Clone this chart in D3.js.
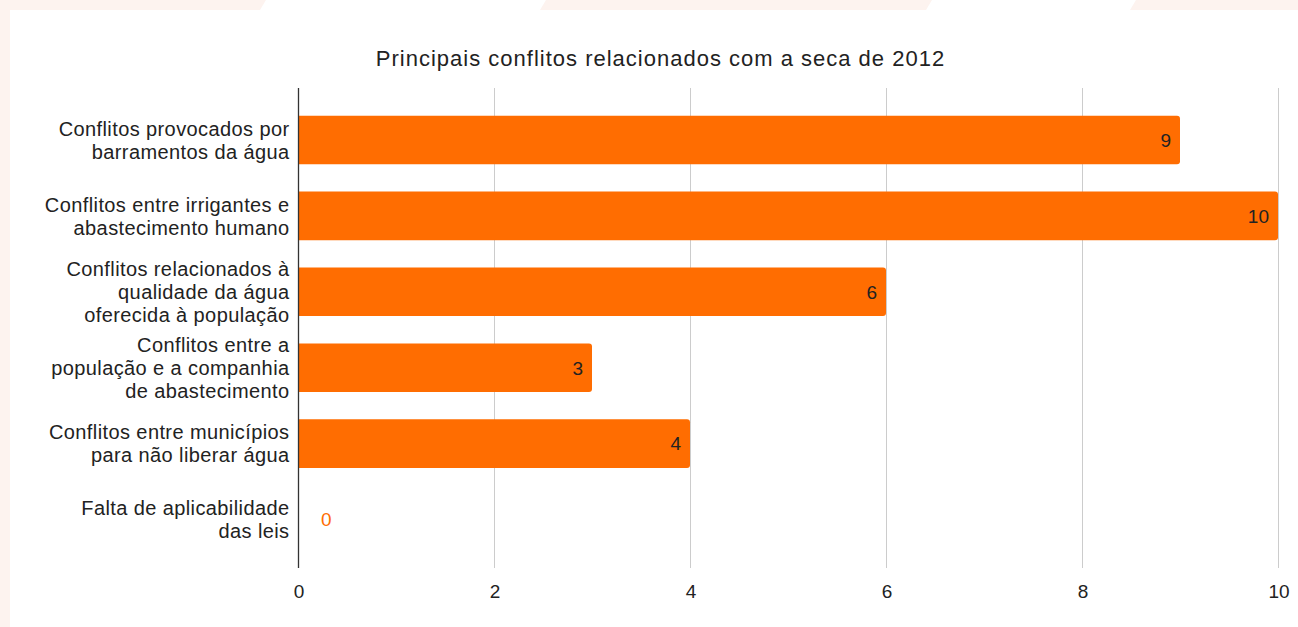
<!DOCTYPE html>
<html>
<head>
<meta charset="utf-8">
<script src="https://cdn.jsdelivr.net/npm/d3@7"></script>
<style>
  html, body { margin: 0; padding: 0; background: #ffffff; }
  svg { display: block; }
  text { font-family: "Liberation Sans", Arial, sans-serif; }
</style>
</head>
<body>
<svg id="chart" width="1298" height="627"></svg>
<script>
// Chart content
const chartTitle = "Principais conflitos relacionados com a seca de 2012";
const categories = [
  "Conflitos provocados por\nbarramentos da água",
  "Conflitos entre irrigantes e\nabastecimento humano",
  "Conflitos relacionados à\nqualidade da água\noferecida à população",
  "Conflitos entre a\npopulação e a companhia\nde abastecimento",
  "Conflitos entre municípios\npara não liberar água",
  "Falta de aplicabilidade\ndas leis"
];
const values = [9, 10, 6, 3, 4, 0];
const xTicks = [0, 2, 4, 6, 8, 10];

const W = 1298, H = 627;
const barColor = "#ff6d01";
const textColor = "#222222";
const frameColor = "#fdf3ef";

const svg = d3.select("#chart");

// Page frame: left strip and a top band cut by slanted gaps
svg.append("rect").attr("x", 0).attr("y", 0).attr("width", W).attr("height", H).attr("fill", "#ffffff");
svg.append("rect").attr("x", 0).attr("y", 0).attr("width", 10).attr("height", H).attr("fill", frameColor);
const bandSegments = [[-10, 266], [540, 932], [1130, 1310]];
const slant = 6;
svg.append("g").selectAll("path").data(bandSegments).join("path")
  .attr("d", d => `M${d[0] + slant},0 L${d[1]},0 L${d[1] - slant},10 L${d[0]},10 Z`)
  .attr("fill", frameColor);

// Scales
const plotTop = 88, plotBottom = 568;
const x = d3.scaleLinear().domain([0, 10]).range([298, 1278]);
const y = d3.scaleBand().domain(d3.range(categories.length))
  .range([115.7, 543.8]).paddingInner(0.36).paddingOuter(0);

// Title
svg.append("text")
  .attr("x", 660.5).attr("y", 66)
  .attr("text-anchor", "middle")
  .attr("font-size", 22).attr("letter-spacing", 1)
  .attr("fill", textColor)
  .text(chartTitle);

// Vertical gridlines
svg.append("g").selectAll("line").data(xTicks.filter(t => t !== 0)).join("line")
  .attr("x1", d => x(d) + 0.5).attr("x2", d => x(d) + 0.5)
  .attr("y1", plotTop).attr("y2", plotBottom)
  .attr("stroke", "#cccccc").attr("stroke-width", 1);

// X axis tick labels
const xAxis = d3.axisBottom(x).tickValues(xTicks).tickSize(0).tickPadding(0).tickFormat(d3.format("d"));
const xg = svg.append("g").attr("transform", `translate(0.5, ${plotBottom})`).call(xAxis);
xg.select(".domain").remove();
xg.selectAll("text")
  .attr("font-family", "'Liberation Sans', Arial, sans-serif")
  .attr("font-size", 19).attr("fill", textColor)
  .attr("dy", 0).attr("y", 30);

// Bars with rounded right end
const r = 3;
function barPath(v, i) {
  const x0 = x(0), x1 = x(v), y0 = y(i), h = y.bandwidth();
  if (x1 - x0 <= 0) return "";
  const rr = Math.min(r, (x1 - x0));
  return `M${x0},${y0} H${x1 - rr} Q${x1},${y0} ${x1},${y0 + rr} V${y0 + h - rr} Q${x1},${y0 + h} ${x1 - rr},${y0 + h} H${x0} Z`;
}
svg.append("g").selectAll("path").data(values).join("path")
  .attr("d", (v, i) => barPath(v, i))
  .attr("fill", barColor);

// Baseline axis at zero
svg.append("line")
  .attr("x1", x(0) + 0.5).attr("x2", x(0) + 0.5)
  .attr("y1", plotTop).attr("y2", plotBottom)
  .attr("stroke", "#333333").attr("stroke-width", 1.3);

// Value labels: inside the bar end, or outside when the bar is too short
svg.append("g").selectAll("text").data(values).join("text")
  .attr("x", v => (x(v) - x(0) > 30) ? x(v) - 9 : x(v) + 23)
  .attr("y", (v, i) => y(i) + y.bandwidth() / 2)
  .attr("dy", "0.36em")
  .attr("text-anchor", v => (x(v) - x(0) > 30) ? "end" : "start")
  .attr("font-size", 19)
  .attr("fill", v => (x(v) - x(0) > 30) ? textColor : barColor)
  .text(v => v);

// Category labels, right aligned, centred on each band
const lineGap = 23;
const labels = svg.append("g").selectAll("text").data(categories).join("text")
  .attr("text-anchor", "end")
  .attr("font-size", 20).attr("letter-spacing", 0.4)
  .attr("fill", textColor);
labels.each(function (c, i) {
  const lines = c.split("\n");
  const cy = y(i) + y.bandwidth() / 2;
  const first = cy - (lines.length - 1) * lineGap / 2;
  d3.select(this).selectAll("tspan").data(lines).join("tspan")
    .attr("x", 289.5)
    .attr("y", (l, k) => first + k * lineGap)
    .attr("dy", "0.36em")
    .text(l => l);
});
</script>
</body>
</html>
